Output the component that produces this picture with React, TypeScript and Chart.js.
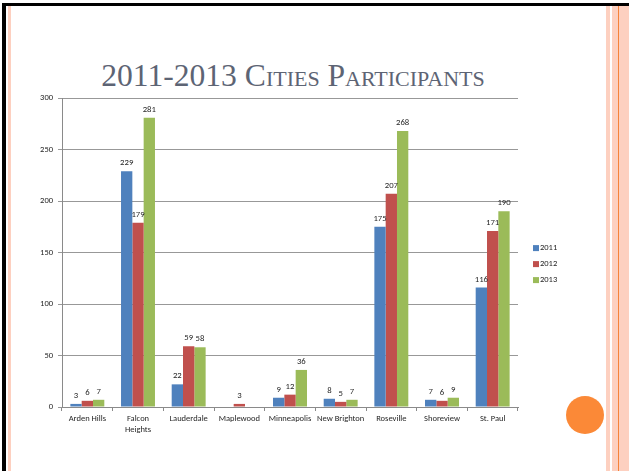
import React, { useEffect, useRef } from 'react';
import { Chart, registerables } from 'chart.js';

Chart.register(...registerables);

const categories: (string | string[])[] = [
  'Arden Hills',
  ['Falcon', 'Heights'],
  'Lauderdale',
  'Maplewood',
  'Minneapolis',
  'New Brighton',
  'Roseville',
  'Shoreview',
  'St. Paul',
];
const seriesNames = ['2011', '2012', '2013'];
const values2011 = [3, 229, 22, null, 9, 8, 175, 7, 116];
const values2012 = [6, 179, 59, 3, 12, 5, 207, 6, 171];
const values2013 = [7, 281, 58, null, 36, 7, 268, 9, 190];
const seriesColors = ['#4F81BD', '#C0504D', '#9BBB59'];
const yMin = 0;
const yMax = 300;
const yStep = 50;

const FONT = 'Carlito, Lato, "Liberation Sans", sans-serif';
const TEXT = '#262626';

const dataLabels = {
  id: 'dataLabels',
  afterDatasetsDraw(chart: any) {
    const ctx = chart.ctx;
    ctx.save();
    ctx.font = `8.7px ${FONT}`;
    ctx.fillStyle = TEXT;
    ctx.textAlign = 'center';
    ctx.textBaseline = 'alphabetic';
    chart.data.datasets.forEach((ds: any, i: number) => {
      const meta = chart.getDatasetMeta(i);
      meta.data.forEach((el: any, j: number) => {
        const v = ds.data[j];
        if (v == null) return;
        ctx.fillText(String(v), el.x, el.y - 6);
      });
    });
    ctx.restore();
  },
};

const sideLegend = {
  id: 'sideLegend',
  afterDraw(chart: any) {
    const ctx = chart.ctx;
    const area = chart.chartArea;
    ctx.save();
    ctx.font = `8.5px ${FONT}`;
    ctx.textAlign = 'left';
    ctx.textBaseline = 'middle';
    chart.data.datasets.forEach((ds: any, i: number) => {
      const x = area.right + 15;
      const y = area.top + 150 + i * 16;
      ctx.fillStyle = ds.backgroundColor;
      ctx.fillRect(x, y - 3, 6, 6);
      ctx.fillStyle = TEXT;
      ctx.fillText(ds.label, x + 7, y);
    });
    ctx.restore();
  },
};

function BarChart() {
  const ref = useRef<HTMLCanvasElement>(null);
  useEffect(() => {
    if (!ref.current) return;
    const series = [values2011, values2012, values2013];
    const chart = new Chart(ref.current, {
      type: 'bar',
      data: {
        labels: categories,
        datasets: seriesNames.map((name, i) => ({
          label: name,
          data: series[i],
          backgroundColor: seriesColors[i],
          borderWidth: 0,
          categoryPercentage: 0.67,
          barPercentage: 1.0,
        })),
      },
      options: {
        responsive: false,
        animation: false,
        devicePixelRatio: 1,
        layout: { padding: { top: 9, right: 62, bottom: 0, left: 0 } },
        plugins: {
          legend: { display: false },
          tooltip: { enabled: false },
          title: { display: false },
        },
        scales: {
          x: {
            offset: true,
            grid: {
              drawOnChartArea: false,
              drawTicks: true,
              tickLength: 4,
              color: '#8a8a8a',
            },
            border: { color: '#8a8a8a' },
            ticks: {
              font: { family: FONT, size: 8.5, lineHeight: 1.35 },
              color: TEXT,
              padding: 2,
              maxRotation: 0,
              autoSkip: false,
            },
            afterFit: (s: any) => {
              s.height = 33;
            },
          },
          y: {
            min: yMin,
            max: yMax,
            grid: { color: '#989898', tickLength: 4 },
            border: { color: '#8a8a8a' },
            ticks: {
              stepSize: yStep,
              font: { family: FONT, size: 8.5 },
              color: TEXT,
              padding: 5,
            },
            afterFit: (s: any) => {
              s.width = 52;
            },
          },
        },
      },
      plugins: [dataLabels, sideLegend],
    });
    return () => chart.destroy();
  }, []);
  return (
    <canvas
      ref={ref}
      width={570}
      height={352}
      style={{ position: 'absolute', left: 10, top: 88, width: 570, height: 352 }}
    />
  );
}

export default function App() {
  const pink = '#fdd0c0';
  return (
    <div
      style={{
        position: 'fixed',
        left: 0,
        top: 0,
        width: 629,
        height: 471,
        background: '#ffffff',
        overflow: 'hidden',
      }}
    >
      <div style={{ position: 'absolute', left: 2, top: 3, width: 627, height: 3, background: '#000' }} />
      <div style={{ position: 'absolute', left: 2, top: 3, width: 4, height: 468, background: '#000' }} />
      <div style={{ position: 'absolute', left: 8, top: 6, width: 3, height: 465, background: pink }} />
      <div style={{ position: 'absolute', left: 606, top: 6, width: 4, height: 465, background: pink }} />
      <div style={{ position: 'absolute', left: 612, top: 6, width: 6, height: 465, background: pink }} />
      <div style={{ position: 'absolute', left: 618, top: 6, width: 1, height: 465, background: '#f5833a' }} />
      <div style={{ position: 'absolute', left: 619, top: 6, width: 10, height: 465, background: pink }} />
      <div
        style={{
          position: 'absolute',
          left: 566,
          top: 396,
          width: 38,
          height: 38,
          borderRadius: '50%',
          background: '#fb8937',
        }}
      />
      <div
        style={{
          position: 'absolute',
          left: 0,
          top: 58,
          width: 586,
          textAlign: 'center',
          fontFamily: '"Liberation Serif", "DejaVu Serif", serif',
          fontVariant: 'small-caps',
          fontSize: 31.6,
          lineHeight: '36px',
          color: '#5d6474',
          whiteSpace: 'nowrap',
        }}
      >
        2011-2013 Cities Participants
      </div>
      <BarChart />
    </div>
  );
}
